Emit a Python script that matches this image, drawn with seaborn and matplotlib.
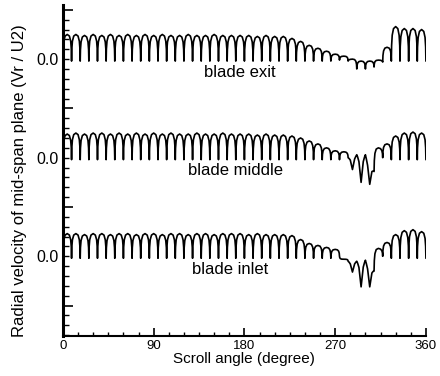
import numpy as np
import pandas as pd
import matplotlib
matplotlib.use("Agg")
import matplotlib.pyplot as plt
import seaborn as sns
from matplotlib.ticker import MultipleLocator, FixedLocator

# ---- data ----
N_PASSAGES = 42
SERIES = ["blade exit", "blade middle", "blade inlet"]
OFFSETS = [0.0, -1.0, -2.0]

EXIT_PEAK = [0.25, 0.25, 0.24, 0.25, 0.24, 0.25, 0.24, 0.25, 0.24, 0.25,
             0.24, 0.25, 0.24, 0.24, 0.25, 0.24, 0.24, 0.25, 0.24, 0.24,
             0.24, 0.24, 0.23, 0.24, 0.23, 0.23, 0.21, 0.18, 0.14, 0.11,
             0.08, 0.05, 0.03, 0.00, -0.02, -0.02, -0.01, 0.12, 0.33, 0.31,
             0.31, 0.30]
EXIT_TROUGH = [-0.02] * 32 + [-0.01, -0.02, -0.10, -0.10, -0.08, -0.03,
                              -0.02, -0.02, -0.02, -0.02, -0.02]

MIDDLE_PEAK = [0.24, 0.25, 0.24, 0.25, 0.25, 0.24, 0.25, 0.24, 0.25, 0.24,
               0.25, 0.24, 0.25, 0.24, 0.24, 0.25, 0.24, 0.24, 0.25, 0.24,
               0.24, 0.24, 0.23, 0.24, 0.23, 0.23, 0.22, 0.20, 0.17, 0.14,
               0.10, 0.07, 0.06, -0.12, -0.25, -0.27, 0.10, 0.14, 0.22, 0.25,
               0.26, 0.25]
MIDDLE_TROUGH = [-0.02] * 33 + [0.00, 0.03, 0.03, -0.14, 0.00,
                                -0.02, -0.02, -0.02, -0.02, -0.02]

INLET_PEAK = [0.23, 0.23, 0.22, 0.23, 0.23, 0.22, 0.23, 0.23, 0.22, 0.23,
              0.23, 0.22, 0.23, 0.23, 0.22, 0.23, 0.23, 0.22, 0.23, 0.23,
              0.23, 0.22, 0.23, 0.22, 0.22, 0.22, 0.21, 0.17, 0.13, 0.11,
              0.09, 0.07, -0.03, -0.16, -0.31, -0.31, 0.08, 0.14, 0.22, 0.26,
              0.27, 0.25]
INLET_TROUGH = [-0.02] * 32 + [0.00, -0.05, -0.05, -0.04, -0.15, 0.00,
                               -0.02, -0.02, -0.02, -0.02, -0.02]

# shape of one blade-passage arch (fraction of passage, fraction of height)
ARCH_X = [0.0, 0.03, 0.10, 0.25, 0.5, 0.75, 0.90, 0.97]
ARCH_H = [0.0, 0.45, 0.75, 0.94, 1.0, 0.94, 0.75, 0.45]
# shape of a sharp downward spike
DIP_H = [0.0, 0.03, 0.08, 0.25, 1.0, 0.25, 0.08, 0.03]

XTICKS = [0, 90, 180, 270, 360]
LABEL_ANGLE = [175, 171, 166]

# ---- build long table ----
pitch = 360.0 / N_PASSAGES
rows = []
for name, off, peaks, troughs in zip(SERIES, OFFSETS,
                                     [EXIT_PEAK, MIDDLE_PEAK, INLET_PEAK],
                                     [EXIT_TROUGH, MIDDLE_TROUGH, INLET_TROUGH]):
    for i, pk in enumerate(peaks):
        t0, t1 = troughs[i], troughs[i + 1]
        shape = DIP_H if pk < min(t0, t1) - 0.05 else ARCH_H
        for fx, fh in zip(ARCH_X, shape):
            base = t0 + (t1 - t0) * fx
            rows.append((name, (i + fx) * pitch, off + base + (pk - base) * fh))
    rows.append((name, 360.0, off + troughs[-1]))
df = pd.DataFrame(rows, columns=["series", "angle", "vr"])

# ---- plot ----
sns.set_theme(style="ticks")
plt.rcParams["font.family"] = ["Liberation Sans", "DejaVu Sans"]

fig = plt.figure(figsize=(4.4, 3.76), dpi=100)
ax = fig.add_axes([0.143, 0.106, 0.825, 0.881])

sns.lineplot(data=df, x="angle", y="vr", hue="series", units="series",
             estimator=None, sort=False, palette=["black"] * 3,
             linewidth=1.2, legend=False, ax=ax)

ax.set_xlim(0, 360)
ax.set_ylim(-2.81, 0.55)
ax.spines["top"].set_visible(False)
ax.spines["right"].set_visible(False)
ax.spines["left"].set_linewidth(2.2)
ax.spines["bottom"].set_linewidth(1.5)
for s in ("left", "bottom"):
    ax.spines[s].set_color("black")

ax.set_xticks(XTICKS)
ax.set_xticklabels([str(v) for v in XTICKS], fontsize=9.5)
ax.xaxis.set_minor_locator(MultipleLocator(15))
ax.tick_params(axis="x", which="major", direction="in", length=6, width=1.2,
               pad=3, colors="black")
ax.tick_params(axis="x", which="minor", direction="in", length=3, width=1.0,
               colors="black")

ax.yaxis.set_major_locator(FixedLocator([0.5, -0.5, -1.5, -2.5]))
ax.yaxis.set_minor_locator(MultipleLocator(0.1))
ax.set_yticklabels([])
ax.tick_params(axis="y", which="major", direction="in", length=7, width=1.2,
               colors="black")
ax.tick_params(axis="y", which="minor", direction="in", length=4, width=1.0,
               colors="black")

sec = ax.secondary_yaxis("left")
sec.set_yticks(OFFSETS)
sec.set_yticklabels(["0.0"] * 3, fontsize=11.5)
sec.tick_params(length=0, pad=3, colors="black")
sec.spines["left"].set_visible(False)

ax.set_xlabel("Scroll angle (degree)", fontsize=11, labelpad=0, color="black")
ax.set_ylabel("")
fig.text(0.045, 0.52, "Radial velocity of mid-span plane (Vr / U2)",
         rotation=90, ha="center", va="center", fontsize=12, color="black")

for name, off, lx in zip(SERIES, OFFSETS, LABEL_ANGLE):
    ax.text(lx, off - 0.055, name, ha="center", va="top", fontsize=12,
            color="black")

fig.savefig("out.png", dpi=100, facecolor="white")
